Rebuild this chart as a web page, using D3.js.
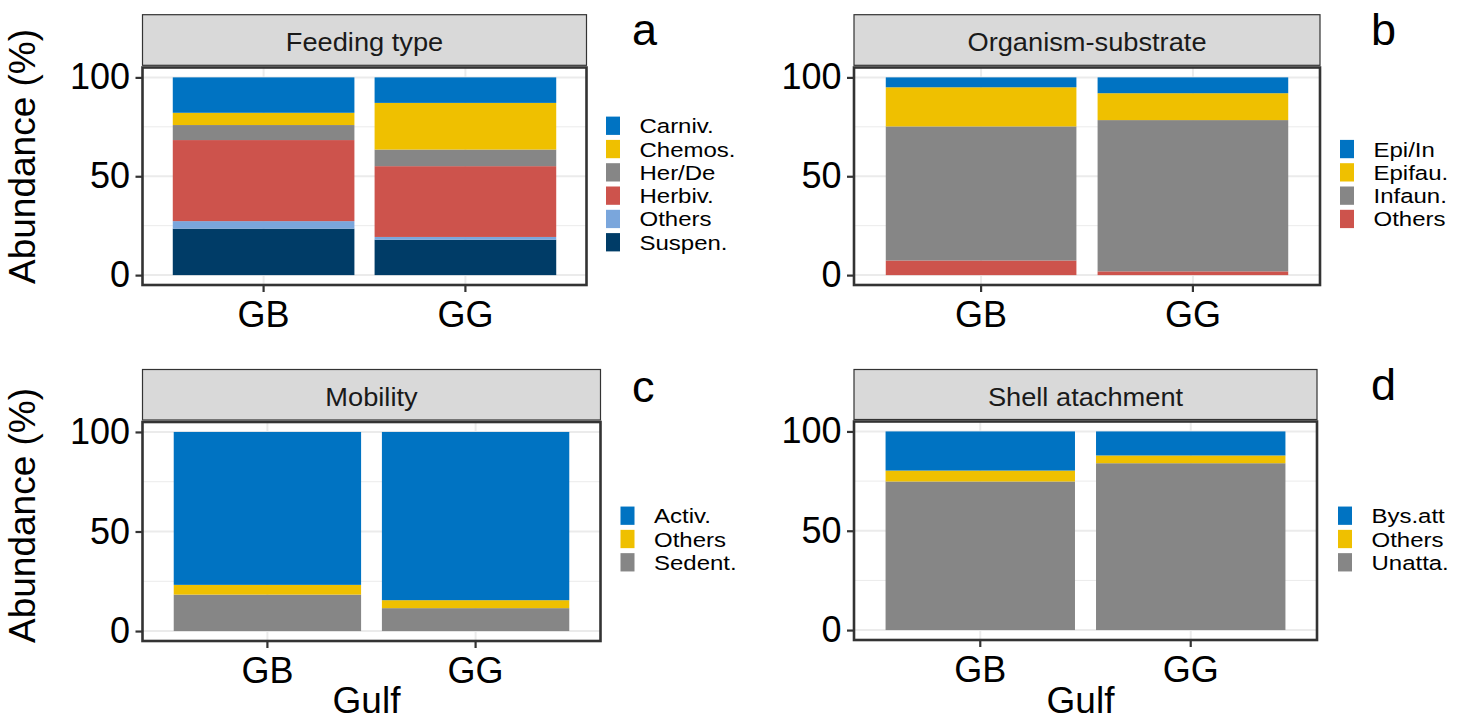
<html>
  <head>
    <meta charset="UTF-8" />
    <style>
      body { margin: 0; background: white; }
      text { font-family: "Liberation Sans", Arial, sans-serif; }
    </style>
    <script src="https://d3js.org/d3.v7.min.js"></script>
  </head>

  <body>
    <svg id="svg"></svg>

    <script>
      // values, abundance in %
      var gulfs = ["GB", "GG"];

      var feedingCats = ["Carniv.", "Chemos.", "Her/De", "Herbiv.", "Others", "Suspen."];
      var feedingGB = [17.9, 6.2, 7.6, 41.0, 3.8, 23.5];
      var feedingGG = [12.9, 23.6, 8.4, 35.8, 1.4, 17.9];

      var substrateCats = ["Epi/In", "Epifau.", "Infaun.", "Others"];
      var substrateGB = [5.0, 19.8, 67.8, 7.4];
      var substrateGG = [8.0, 13.6, 76.5, 1.9];

      var mobilityCats = ["Activ.", "Others", "Sedent."];
      var mobilityGB = [76.8, 4.9, 18.3];
      var mobilityGG = [84.5, 4.0, 11.5];

      var shellCats = ["Bys.att", "Others", "Unatta."];
      var shellGB = [19.7, 5.5, 74.8];
      var shellGG = [12.1, 3.9, 84.0];

      var yTicks = [0, 50, 100];
      var yMinor = [25, 75];

      // ggsci jco palette
      var jco = ["#0073C2", "#EFC000", "#868686", "#CD534C", "#7AA6DC", "#003C67"];

      var width = 1466,
        height = 721;

      var svg = d3.select("#svg").attr("width", width).attr("height", height);

      var panels = [
        { title: "Feeding type", letter: "a", cats: feedingCats, vals: [feedingGB, feedingGG],
          left: 142.5, right: 586.5, stripTop: 14.7, stripBot: 65.3, top: 67.5, bottom: 285,
          keyX: 606, legendCy: 184, letterX: 632, letterY: 45, ytitle: 156.5, xtitle: false },
        { title: "Organism-substrate", letter: "b", cats: substrateCats, vals: [substrateGB, substrateGG],
          left: 854, right: 1320, stripTop: 14.7, stripBot: 65.3, top: 67.5, bottom: 285,
          keyX: 1340, legendCy: 184, letterX: 1371, letterY: 45, ytitle: null, xtitle: false },
        { title: "Mobility", letter: "c", cats: mobilityCats, vals: [mobilityGB, mobilityGG],
          left: 142.5, right: 600.5, stripTop: 369.5, stripBot: 420, top: 422, bottom: 641,
          keyX: 620.5, legendCy: 539, letterX: 632, letterY: 401.5, ytitle: 515.5, xtitle: true },
        { title: "Shell atachment", letter: "d", cats: shellCats, vals: [shellGB, shellGG],
          left: 854, right: 1317, stripTop: 369.5, stripBot: 419.5, top: 421.5, bottom: 640,
          keyX: 1338, legendCy: 539, letterX: 1371, letterY: 400, ytitle: null, xtitle: true },
      ];

      panels.forEach(function (p) {
        var g = svg.append("g");

        var x = d3
          .scaleBand()
          .domain(gulfs)
          .range([p.left, p.right])
          .paddingInner(0.1)
          .paddingOuter(0.15);

        // ggplot style 5% expansion on the y scale
        var y = d3.scaleLinear().domain([-5, 105]).range([p.bottom, p.top]);

        // panel background + grid
        g.append("rect")
          .attr("x", p.left)
          .attr("y", p.top)
          .attr("width", p.right - p.left)
          .attr("height", p.bottom - p.top)
          .attr("fill", "white");

        g.selectAll(".minor")
          .data(yMinor)
          .enter()
          .append("line")
          .attr("x1", p.left)
          .attr("x2", p.right)
          .attr("y1", (d) => y(d))
          .attr("y2", (d) => y(d))
          .attr("stroke", "#ebebeb")
          .attr("stroke-width", 1);

        g.selectAll(".major")
          .data(yTicks)
          .enter()
          .append("line")
          .attr("x1", p.left)
          .attr("x2", p.right)
          .attr("y1", (d) => y(d))
          .attr("y2", (d) => y(d))
          .attr("stroke", "#ebebeb")
          .attr("stroke-width", 2);

        g.selectAll(".vgrid")
          .data(gulfs)
          .enter()
          .append("line")
          .attr("x1", (d) => x(d) + x.bandwidth() / 2)
          .attr("x2", (d) => x(d) + x.bandwidth() / 2)
          .attr("y1", p.top)
          .attr("y2", p.bottom)
          .attr("stroke", "#ebebeb")
          .attr("stroke-width", 2);

        // stacked bars, first category on top like ggplot
        var rows = gulfs.map(function (gulf, i) {
          var r = { gulf: gulf };
          p.cats.forEach(function (c, j) {
            r[c] = p.vals[i][j];
          });
          return r;
        });
        var color = d3.scaleOrdinal().domain(p.cats).range(jco);
        var stack = d3.stack().keys(p.cats.slice().reverse());

        g.selectAll(".layer")
          .data(stack(rows))
          .enter()
          .append("g")
          .attr("fill", (d) => color(d.key))
          .selectAll("rect")
          .data((d) => d)
          .enter()
          .append("rect")
          .attr("x", (d) => x(d.data.gulf))
          .attr("width", x.bandwidth())
          .attr("y", (d) => y(d[1]))
          .attr("height", (d) => y(d[0]) - y(d[1]));

        // border
        g.append("rect")
          .attr("x", p.left)
          .attr("y", p.top)
          .attr("width", p.right - p.left)
          .attr("height", p.bottom - p.top)
          .attr("fill", "none")
          .attr("stroke", "#333333")
          .attr("stroke-width", 2.6);

        // strip
        g.append("rect")
          .attr("x", p.left)
          .attr("y", p.stripTop)
          .attr("width", p.right - p.left)
          .attr("height", p.stripBot - p.stripTop)
          .attr("fill", "#d9d9d9")
          .attr("stroke", "#333333")
          .attr("stroke-width", 1.2);

        g.append("text")
          .attr(
            "transform",
            "translate(" + (p.left + p.right) / 2 + "," + ((p.stripTop + p.stripBot) / 2 + 11) + ") scale(1.09,1)"
          )
          .attr("text-anchor", "middle")
          .attr("fill", "#1a1a1a")
          .style("font-size", "25px")
          .text(p.title);

        // axes
        var yAxis = g
          .append("g")
          .attr("transform", "translate(" + p.left + ",0)")
          .call(d3.axisLeft(y).tickValues(yTicks).tickSize(7).tickPadding(5.5));

        var xAxis = g
          .append("g")
          .attr("transform", "translate(0," + p.bottom + ")")
          .call(d3.axisBottom(x).tickSize(7).tickPadding(9.5));

        [yAxis, xAxis].forEach(function (a) {
          a.select(".domain").remove();
          a.selectAll(".tick line").attr("stroke", "#333333").attr("stroke-width", 2.2);
          a.selectAll(".tick text")
            .attr("fill", "black")
            .style("font-size", "36px")
            .style("font-family", '"Liberation Sans", Arial, sans-serif');
        });

        // legend
        var pitch = 23.3,
          keyH = 18.3;
        var legTop = p.legendCy - (pitch * (p.cats.length - 1) + keyH) / 2;

        p.cats.forEach(function (c, i) {
          g.append("rect")
            .attr("x", p.keyX)
            .attr("y", legTop + i * pitch)
            .attr("width", 14)
            .attr("height", keyH)
            .attr("fill", color(c));

          g.append("text")
            .attr(
              "transform",
              "translate(" + (p.keyX + 33.5) + "," + (legTop + i * pitch + keyH / 2 + 7.5) + ") scale(1.17,1)"
            )
            .attr("fill", "black")
            .style("font-size", "20.5px")
            .text(c);
        });

        // panel letter
        g.append("text")
          .attr("x", p.letterX)
          .attr("y", p.letterY)
          .attr("fill", "black")
          .style("font-size", "45px")
          .text(p.letter);

        if (p.ytitle !== null) {
          g.append("text")
            .attr("transform", "translate(35," + p.ytitle + ") rotate(-90)")
            .attr("text-anchor", "middle")
            .attr("fill", "black")
            .style("font-size", "37px")
            .text("Abundance (%)");
        }

        if (p.xtitle) {
          g.append("text")
            .attr("x", (p.left + p.right) / 2 - 5)
            .attr("y", 713)
            .attr("text-anchor", "middle")
            .attr("fill", "black")
            .style("font-size", "37px")
            .text("Gulf");
        }
      });
    </script>
  </body>
</html>
